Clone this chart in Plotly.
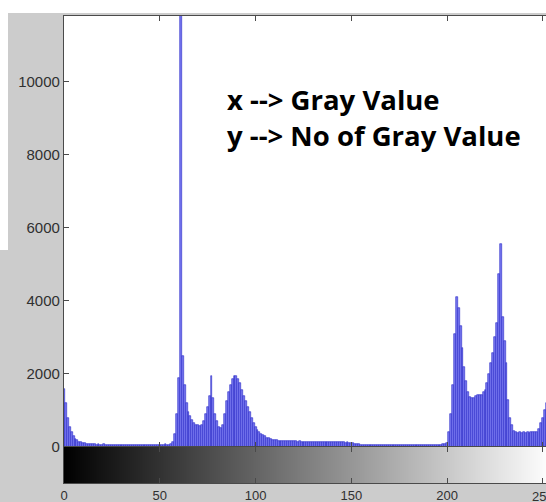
import plotly.graph_objects as go

gray_levels = list(range(256))

counts = [
    # 0-15
    1600, 1200, 800, 550, 400, 300, 230, 180, 150, 130, 110, 100, 90, 85, 80, 75,
    # 16-31
    70, 65, 70, 60, 65, 70, 60, 55, 65, 60, 55, 60, 65, 55, 60, 55,
    # 32-47
    60, 55, 50, 60, 55, 50, 55, 60, 50, 55, 50, 55, 60, 50, 55, 50,
    # 48-63
    55, 60, 55, 50, 60, 70, 60, 65, 70, 150, 350, 900, 1900, 11900, 2500, 1700,
    # 64-79
    1200, 950, 850, 750, 650, 600, 600, 580, 600, 700, 900, 1100, 1400, 1950, 1350, 900,
    # 80-95
    700, 560, 520, 600, 900, 1250, 1500, 1700, 1850, 1950, 1950, 1850, 1750, 1550, 1400, 1250,
    # 96-111
    1100, 950, 800, 650, 550, 460, 400, 350, 320, 290, 260, 240, 220, 200, 190, 180,
    # 112-127
    175, 170, 170, 165, 165, 160, 160, 155, 160, 155, 150, 155, 150, 150, 145, 150,
    # 128-143
    145, 140, 145, 140, 140, 135, 140, 135, 130, 135, 130, 130, 135, 130, 125, 130,
    # 144-159
    125, 130, 125, 120, 125, 120, 110, 100, 90, 80, 70, 65, 60, 60, 55, 60,
    # 160-175
    55, 50, 55, 50, 55, 50, 50, 55, 50, 50, 55, 50, 50, 55, 50, 50,
    # 176-191
    55, 50, 50, 55, 50, 50, 55, 50, 50, 55, 50, 50, 55, 50, 55, 50,
    # 192-207
    55, 50, 55, 60, 55, 60, 70, 80, 100, 400, 900, 1700, 3100, 4100, 3800, 3300,
    # 208-223
    2700, 2200, 1800, 1500, 1370, 1330, 1350, 1400, 1420, 1420, 1430, 1500, 1560, 1740, 2000, 2300,
    # 224-239
    2560, 3000, 3400, 4750, 5550, 3550, 2900, 2300, 1280, 800, 600, 450, 400, 390, 400, 390,
    # 240-255
    400, 390, 400, 390, 400, 400, 410, 420, 500, 650, 790, 1000, 1200, 1300, 1200, 800,
]

y_ticks = [0, 2000, 4000, 6000, 8000, 10000]
x_ticks = [0, 50, 100, 150, 200, 250]

caption = "x --> Gray Value<br>y --> No of Gray Value"

W, H = 546, 502
ML, MR, MT, MB = 64, 0, 16, 19
plot_h = H - MT - MB
plot_w = W - ML - MR
bar_px = 36
split = bar_px / plot_h

axis_col = "#4a4a4a"
tick_font = dict(family="Liberation Sans, Arial, sans-serif", size=13, color="#303030")
text_font = dict(family="Open Sans, Noto Sans, sans-serif", size=27.5, color="black", weight="bold")


def py(y_px):
    return (H - MB - y_px) / plot_h


def px(x_px):
    return (x_px - ML) / plot_w


fig = go.Figure()

fig.add_trace(go.Bar(
    x=gray_levels, y=counts, width=1.0,
    marker=dict(color="rgb(120,120,240)", line=dict(color="rgb(40,40,200)", width=0.6)),
    xaxis="x", yaxis="y", showlegend=False,
))

fig.add_trace(go.Heatmap(
    x=gray_levels, y=[0], z=[gray_levels],
    colorscale=[[0, "black"], [1, "white"]], showscale=False,
    xaxis="x2", yaxis="y2", hoverinfo="skip",
))

fig.update_layout(
    width=W, height=H,
    margin=dict(l=ML, r=MR, t=MT, b=MB, pad=0),
    paper_bgcolor="#cccccc",
    plot_bgcolor="white",
    bargap=0,
    xaxis=dict(
        domain=[0, 1], range=[0, 251.6], anchor="y",
        tickvals=x_ticks, showticklabels=False, ticks="inside", ticklen=5,
        tickcolor=axis_col, showline=True, linecolor=axis_col, linewidth=1.2,
        mirror="ticks", showgrid=False, zeroline=False,
    ),
    yaxis=dict(
        domain=[split, 1], range=[0, 11800], anchor="x",
        tickvals=y_ticks, ticktext=[str(v) for v in y_ticks],
        ticks="inside", ticklen=5, tickcolor=axis_col,
        showline=True, linecolor=axis_col, linewidth=1.2,
        showgrid=False, zeroline=False,
        tickfont=dict(family="Liberation Sans, Arial, sans-serif", size=15, color="#303030"),
    ),
    xaxis2=dict(
        domain=[0, 1], range=[0, 251.6], anchor="y2",
        tickvals=x_ticks, ticktext=[str(v) for v in x_ticks],
        ticks="inside", ticklen=5, tickcolor=axis_col,
        showline=True, linecolor=axis_col, linewidth=1.2, mirror="ticks",
        showgrid=False, zeroline=False, tickfont=tick_font,
    ),
    yaxis2=dict(
        domain=[0, split], range=[-0.5, 0.5], anchor="x2",
        showticklabels=False, ticks="", showline=True, linecolor=axis_col,
        linewidth=1.2, showgrid=False, zeroline=False,
    ),
    shapes=[
        dict(type="rect", xref="paper", yref="paper",
             x0=px(-5), x1=px(W + 5), y0=py(13), y1=py(-5),
             fillcolor="white", line=dict(width=0), layer="below"),
        dict(type="rect", xref="paper", yref="paper",
             x0=px(-5), x1=px(8), y0=py(250), y1=py(-5),
             fillcolor="white", line=dict(width=0), layer="below"),
    ],
    annotations=[
        dict(text=caption, xref="paper", yref="paper",
             x=px(225), y=py(118), align="left",
             xanchor="left", yanchor="middle", showarrow=False, font=text_font),
        # last tick label, cut by the right edge as in the reference
        dict(text=str(x_ticks[-1]), xref="x2", yref="paper",
             x=x_ticks[-1], y=py(487), xanchor="center", yanchor="top",
             showarrow=False, font=tick_font),
    ],
)

fig.write_html(
    "out.html",
    config={"displayModeBar": False},
    post_script=(
        "document.body.style.margin='0';"
        "document.documentElement.style.overflow='hidden';"
        "document.body.style.overflow='hidden';"
    ),
)
